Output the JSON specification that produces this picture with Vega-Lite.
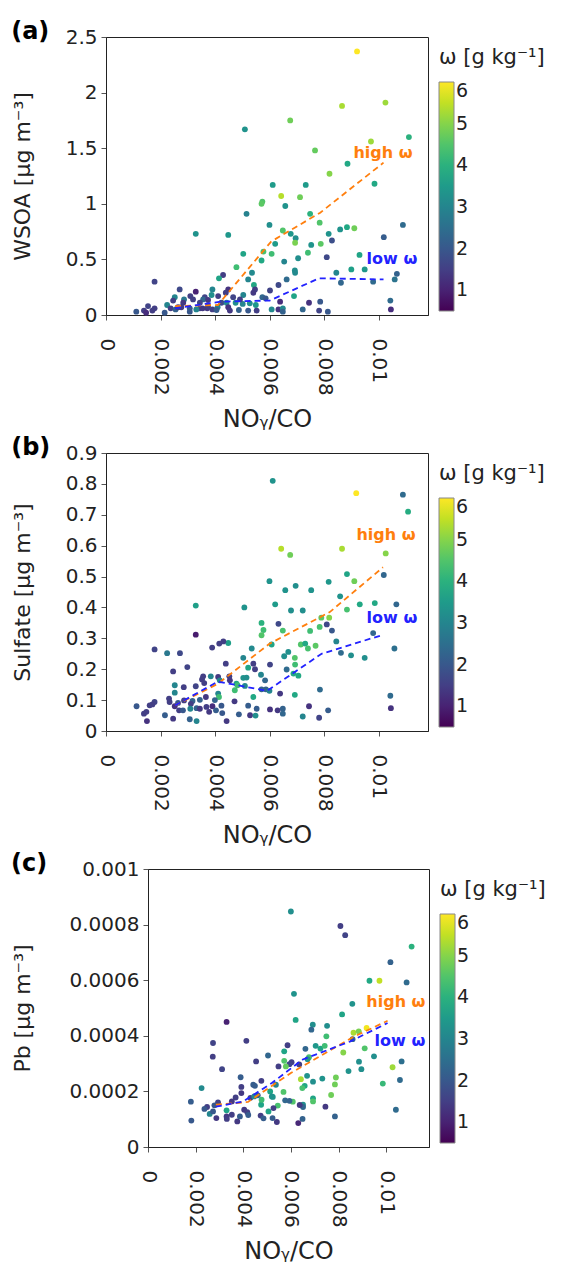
{
"$schema": "https://vega.github.io/schema/vega-lite/v6.json",
"padding": {"left": 3, "top": 19, "right": 2, "bottom": 2},
"background": "white",
"config": {
 "font": "DejaVu Sans",
 "view": {"stroke": "#222", "strokeWidth": 1},
 "axis": {"labelFont": "DejaVu Sans", "labelFontSize": 20, "labelColor": "#222", "titleFont": "DejaVu Sans", "titleFontWeight": "normal", "titleColor": "#222", "grid": false, "domainColor": "#222", "tickColor": "#555", "tickSize": 5, "labelFlush": false, "labelOverlap": false, "tickCount": 12},
 "axisX": {"labelAngle": 90, "labelPadding": 18, "titleFontSize": 24, "titlePadding": 12},
 "axisY": {"titleFontSize": 22, "labelPadding": 4},
 "legend": {"titleFont": "DejaVu Sans", "titleFontSize": 21, "titleFontWeight": "normal", "titleColor": "#222", "labelFont": "DejaVu Sans", "labelFontSize": 19, "labelColor": "#222", "gradientLength": 229, "gradientThickness": 15, "gradientStrokeColor": "#888", "gradientStrokeWidth": 1, "offset": 0, "padding": 10, "titlePadding": 14, "labelOffset": 6},
 "title": {"font": "DejaVu Sans", "fontSize": 24, "fontWeight": "bold", "anchor": "start", "frame": "bounds", "color": "#000", "offset": -17}
},
"datasets": {
 "sp": [{"k": 0}],
 "a": [
  {"x":0.00865,"y":1.88,"w":5.3},{"x":0.01024,"y":1.91,"w":5.2},{"x":0.00675,"y":1.75,"w":4.8},{"x":0.00509,"y":1.67,"w":3.3},{"x":0.0111,"y":1.6,"w":4.0},{"x":0.00971,"y":1.56,"w":5.2},{"x":0.00766,"y":1.48,"w":4.7},{"x":0.00885,"y":1.36,"w":3.8},{"x":0.00819,"y":1.27,"w":5.0},{"x":0.00611,"y":1.17,"w":3.5},
  {"x":0.00732,"y":1.17,"w":3.5},{"x":0.00984,"y":1.18,"w":3.8},{"x":0.00642,"y":1.07,"w":5.4},{"x":0.00711,"y":1.06,"w":4.8},{"x":0.00573,"y":1.02,"w":4.5},{"x":0.0057,"y":1.0,"w":4.6},{"x":0.00657,"y":0.98,"w":3.3},{"x":0.00515,"y":0.91,"w":2.9},{"x":0.00748,"y":0.91,"w":4.0},{"x":0.00599,"y":0.81,"w":3.2},
  {"x":0.00783,"y":0.83,"w":4.5},{"x":0.00648,"y":0.76,"w":4.5},{"x":0.00677,"y":0.73,"w":3.4},{"x":0.00858,"y":0.77,"w":3.3},{"x":0.00883,"y":0.79,"w":3.8},{"x":0.0091,"y":0.78,"w":4.8},{"x":0.01018,"y":0.7,"w":2.1},{"x":0.01088,"y":0.81,"w":2.4},{"x":0.00816,"y":0.73,"w":3.3},{"x":0.00828,"y":0.67,"w":1.8},
  {"x":0.00329,"y":0.73,"w":3.3},{"x":0.00448,"y":0.72,"w":3.4},{"x":0.00695,"y":0.69,"w":3.2},{"x":0.00693,"y":0.65,"w":4.9},{"x":0.0062,"y":0.64,"w":3.5},{"x":0.00752,"y":0.63,"w":3.3},{"x":0.00787,"y":0.64,"w":4.6},{"x":0.00577,"y":0.57,"w":4.4},{"x":0.00607,"y":0.55,"w":4.3},{"x":0.00503,"y":0.55,"w":3.7},
  {"x":0.0074,"y":0.56,"w":4.3},{"x":0.00929,"y":0.54,"w":3.7},{"x":0.00478,"y":0.43,"w":4.3},{"x":0.0057,"y":0.49,"w":3.8},{"x":0.00653,"y":0.48,"w":3.0},{"x":0.00704,"y":0.51,"w":3.2},{"x":0.00809,"y":0.52,"w":1.7},{"x":0.00535,"y":0.38,"w":3.1},{"x":0.00692,"y":0.4,"w":3.2},{"x":0.00693,"y":0.38,"w":3.1},
  {"x":0.00844,"y":0.38,"w":3.0},{"x":0.00899,"y":0.41,"w":3.6},{"x":0.00948,"y":0.41,"w":3.4},{"x":0.00429,"y":0.36,"w":1.5},{"x":0.00414,"y":0.33,"w":3.7},{"x":0.00521,"y":0.32,"w":3.0},{"x":0.00662,"y":0.32,"w":2.4},{"x":0.00861,"y":0.29,"w":2.3},{"x":0.00979,"y":0.3,"w":2.4},{"x":0.01066,"y":0.37,"w":2.2},
  {"x":0.01058,"y":0.32,"w":2.6},{"x":0.00178,"y":0.3,"w":1.6},{"x":0.00542,"y":0.27,"w":3.8},{"x":0.00632,"y":0.27,"w":1.7},{"x":0.00546,"y":0.23,"w":1.5},{"x":0.00601,"y":0.22,"w":1.6},{"x":0.0039,"y":0.23,"w":3.0},{"x":0.0027,"y":0.23,"w":1.7},{"x":0.00329,"y":0.21,"w":1.0},{"x":0.00448,"y":0.23,"w":1.3},
  {"x":0.00439,"y":0.2,"w":1.5},{"x":0.0054,"y":0.2,"w":1.4},{"x":0.00503,"y":0.18,"w":3.0},{"x":0.00689,"y":0.17,"w":3.7},{"x":0.00573,"y":0.16,"w":2.3},{"x":0.00585,"y":0.15,"w":2.0},{"x":0.00466,"y":0.16,"w":1.6},{"x":0.00362,"y":0.16,"w":1.6},{"x":0.00309,"y":0.17,"w":1.5},{"x":0.00411,"y":0.17,"w":1.5},
  {"x":0.00252,"y":0.16,"w":3.0},{"x":0.00356,"y":0.14,"w":2.3},{"x":0.00246,"y":0.13,"w":1.5},{"x":0.00286,"y":0.14,"w":2.7},{"x":0.00319,"y":0.14,"w":1.5},{"x":0.00224,"y":0.09,"w":3.0},{"x":0.00283,"y":0.11,"w":1.4},{"x":0.00276,"y":0.07,"w":1.4},{"x":0.00237,"y":0.06,"w":1.5},{"x":0.00307,"y":0.06,"w":2.0},
  {"x":0.00344,"y":0.06,"w":1.6},{"x":0.00371,"y":0.06,"w":1.4},{"x":0.0039,"y":0.05,"w":1.5},{"x":0.00409,"y":0.07,"w":2.9},{"x":0.00423,"y":0.11,"w":1.7},{"x":0.00442,"y":0.11,"w":3.1},{"x":0.00475,"y":0.11,"w":3.2},{"x":0.00501,"y":0.1,"w":3.0},{"x":0.00487,"y":0.045,"w":2.2},{"x":0.00527,"y":0.105,"w":3.2},
  {"x":0.00549,"y":0.09,"w":3.4},{"x":0.00552,"y":0.04,"w":1.5},{"x":0.00521,"y":0.04,"w":2.0},{"x":0.00607,"y":0.05,"w":3.1},{"x":0.00632,"y":0.05,"w":1.3},{"x":0.00648,"y":0.06,"w":3.1},{"x":0.00638,"y":0.12,"w":1.2},{"x":0.00648,"y":0.03,"w":2.2},{"x":0.00721,"y":0.05,"w":2.3},{"x":0.00744,"y":0.11,"w":1.3},
  {"x":0.00785,"y":0.12,"w":2.0},{"x":0.00781,"y":0.04,"w":1.6},{"x":0.00813,"y":0.03,"w":2.0},{"x":0.01042,"y":0.13,"w":2.4},{"x":0.01044,"y":0.05,"w":1.2},{"x":0.00111,"y":0.03,"w":2.0},{"x":0.00139,"y":0.04,"w":1.5},{"x":0.00147,"y":0.02,"w":1.2},{"x":0.00154,"y":0.08,"w":1.6},{"x":0.0017,"y":0.04,"w":1.5},
  {"x":0.00178,"y":0.06,"w":1.5},{"x":0.00215,"y":0.02,"w":2.0},{"x":0.00255,"y":0.05,"w":2.2},{"x":0.00264,"y":0.07,"w":1.5},{"x":0.00307,"y":0.03,"w":2.0},{"x":0.00331,"y":0.05,"w":3.0},{"x":0.00354,"y":0.06,"w":1.4},{"x":0.00374,"y":0.08,"w":1.5},{"x":0.00405,"y":0.045,"w":2.1},{"x":0.00448,"y":0.07,"w":1.3},
  {"x":0.00454,"y":0.04,"w":1.4},{"x":0.00344,"y":0.11,"w":1.6},{"x":0.00374,"y":0.135,"w":1.4},{"x":0.00387,"y":0.18,"w":3.2},{"x":0.00491,"y":0.14,"w":1.5},{"x":0.0092,"y":2.37,"w":6.0}
 ],
 "a_hi": [{"x":0.00253,"y":0.08},{"x":0.0041,"y":0.09},{"x":0.00605,"y":0.66},{"x":0.00785,"y":0.92},{"x":0.01017,"y":1.37}],
 "a_lo": [{"x":0.00253,"y":0.06},{"x":0.0042,"y":0.12},{"x":0.006,"y":0.13},{"x":0.0078,"y":0.33},{"x":0.01017,"y":0.32}],
 "a_hi_t": [{"x":0.01015,"y":1.46,"t":"high ω"}],
 "a_lo_t": [{"x":0.01048,"y":0.5,"t":"low ω"}],
 "b": [
  {"x":0.00611,"y":0.81,"w":3.3},{"x":0.00917,"y":0.77,"w":6.0},{"x":0.01088,"y":0.765,"w":2.4},{"x":0.01107,"y":0.71,"w":3.9},{"x":0.00642,"y":0.59,"w":5.4},{"x":0.00675,"y":0.57,"w":4.8},{"x":0.00865,"y":0.59,"w":5.3},{"x":0.01025,"y":0.575,"w":5.0},{"x":0.01018,"y":0.505,"w":2.3},{"x":0.00599,"y":0.485,"w":3.3},
  {"x":0.00816,"y":0.483,"w":3.4},{"x":0.00883,"y":0.508,"w":3.7},{"x":0.0091,"y":0.485,"w":4.8},{"x":0.00329,"y":0.406,"w":3.6},{"x":0.00507,"y":0.4,"w":3.3},{"x":0.00695,"y":0.47,"w":3.2},{"x":0.00657,"y":0.456,"w":3.3},{"x":0.00752,"y":0.456,"w":3.3},{"x":0.0062,"y":0.41,"w":3.5},{"x":0.00678,"y":0.39,"w":3.2},
  {"x":0.00721,"y":0.39,"w":3.2},{"x":0.00858,"y":0.436,"w":3.3},{"x":0.0093,"y":0.41,"w":3.8},{"x":0.00985,"y":0.414,"w":3.8},{"x":0.01064,"y":0.41,"w":2.3},{"x":0.00883,"y":0.393,"w":4.4},{"x":0.0057,"y":0.35,"w":4.0},{"x":0.00577,"y":0.327,"w":4.3},{"x":0.0057,"y":0.31,"w":4.5},{"x":0.00632,"y":0.347,"w":1.7},
  {"x":0.00648,"y":0.325,"w":4.4},{"x":0.00748,"y":0.324,"w":4.3},{"x":0.00789,"y":0.367,"w":4.6},{"x":0.00818,"y":0.367,"w":5.0},{"x":0.00783,"y":0.337,"w":4.4},{"x":0.00809,"y":0.345,"w":1.7},{"x":0.00828,"y":0.325,"w":2.0},{"x":0.00607,"y":0.28,"w":3.7},{"x":0.00714,"y":0.28,"w":4.5},{"x":0.0073,"y":0.283,"w":3.8},
  {"x":0.0074,"y":0.267,"w":4.4},{"x":0.00768,"y":0.276,"w":4.6},{"x":0.00844,"y":0.29,"w":3.0},{"x":0.00979,"y":0.317,"w":2.3},{"x":0.01057,"y":0.267,"w":2.5},{"x":0.00861,"y":0.253,"w":2.4},{"x":0.00898,"y":0.245,"w":3.2},{"x":0.00948,"y":0.237,"w":3.2},{"x":0.00668,"y":0.256,"w":3.2},{"x":0.00653,"y":0.242,"w":3.2},
  {"x":0.00692,"y":0.237,"w":4.5},{"x":0.00534,"y":0.267,"w":3.1},{"x":0.00503,"y":0.237,"w":3.0},{"x":0.00448,"y":0.285,"w":3.6},{"x":0.00415,"y":0.283,"w":1.5},{"x":0.0043,"y":0.29,"w":1.5},{"x":0.00389,"y":0.27,"w":1.5},{"x":0.00329,"y":0.312,"w":0.9},{"x":0.00178,"y":0.264,"w":1.6},{"x":0.00224,"y":0.252,"w":2.7},
  {"x":0.00271,"y":0.252,"w":1.7},{"x":0.00246,"y":0.193,"w":1.5},{"x":0.00298,"y":0.207,"w":1.6},{"x":0.00439,"y":0.218,"w":1.5},{"x":0.0054,"y":0.218,"w":1.5},{"x":0.00601,"y":0.215,"w":1.6},{"x":0.00521,"y":0.205,"w":3.7},{"x":0.00662,"y":0.199,"w":2.4},{"x":0.00693,"y":0.215,"w":4.3},{"x":0.00687,"y":0.186,"w":3.8},
  {"x":0.00705,"y":0.179,"w":3.8},{"x":0.00568,"y":0.182,"w":3.0},{"x":0.00583,"y":0.164,"w":2.3},{"x":0.00546,"y":0.2,"w":1.5},{"x":0.00503,"y":0.172,"w":3.3},{"x":0.00515,"y":0.173,"w":3.2},{"x":0.00452,"y":0.177,"w":1.5},{"x":0.00454,"y":0.164,"w":1.4},{"x":0.00411,"y":0.175,"w":1.4},{"x":0.00417,"y":0.164,"w":3.0},
  {"x":0.00384,"y":0.177,"w":3.0},{"x":0.00356,"y":0.177,"w":1.5},{"x":0.00352,"y":0.167,"w":1.5},{"x":0.0036,"y":0.155,"w":1.5},{"x":0.00329,"y":0.145,"w":1.6},{"x":0.00285,"y":0.142,"w":1.5},{"x":0.00252,"y":0.148,"w":3.0},{"x":0.00252,"y":0.124,"w":3.0},{"x":0.00478,"y":0.153,"w":3.7},{"x":0.00482,"y":0.148,"w":4.3},
  {"x":0.00472,"y":0.132,"w":4.3},{"x":0.00509,"y":0.146,"w":3.1},{"x":0.0057,"y":0.135,"w":2.2},{"x":0.00586,"y":0.135,"w":2.2},{"x":0.00599,"y":0.13,"w":3.0},{"x":0.00638,"y":0.121,"w":1.4},{"x":0.00692,"y":0.117,"w":3.8},{"x":0.00784,"y":0.134,"w":2.4},{"x":0.0054,"y":0.11,"w":3.8},{"x":0.00411,"y":0.121,"w":3.0},
  {"x":0.00414,"y":0.11,"w":4.3},{"x":0.00399,"y":0.1,"w":2.2},{"x":0.00366,"y":0.11,"w":1.4},{"x":0.00317,"y":0.097,"w":2.2},{"x":0.00311,"y":0.088,"w":1.5},{"x":0.00344,"y":0.101,"w":2.2},{"x":0.00231,"y":0.105,"w":1.5},{"x":0.00233,"y":0.094,"w":1.5},{"x":0.00264,"y":0.091,"w":2.0},{"x":0.00286,"y":0.099,"w":1.5},
  {"x":0.00252,"y":0.08,"w":1.3},{"x":0.00268,"y":0.067,"w":1.5},{"x":0.00282,"y":0.067,"w":2.0},{"x":0.00309,"y":0.072,"w":3.0},{"x":0.00332,"y":0.074,"w":2.2},{"x":0.00344,"y":0.072,"w":1.4},{"x":0.00368,"y":0.078,"w":1.5},{"x":0.00378,"y":0.062,"w":1.4},{"x":0.0039,"y":0.08,"w":1.2},{"x":0.00403,"y":0.067,"w":2.1},
  {"x":0.00423,"y":0.082,"w":2.0},{"x":0.00426,"y":0.058,"w":2.0},{"x":0.00442,"y":0.032,"w":1.4},{"x":0.00471,"y":0.096,"w":1.4},{"x":0.00487,"y":0.054,"w":2.1},{"x":0.00521,"y":0.082,"w":2.1},{"x":0.00528,"y":0.051,"w":1.4},{"x":0.00548,"y":0.05,"w":3.2},{"x":0.00552,"y":0.072,"w":2.1},{"x":0.00601,"y":0.07,"w":1.3},
  {"x":0.00629,"y":0.067,"w":1.4},{"x":0.00648,"y":0.072,"w":2.2},{"x":0.00648,"y":0.056,"w":2.3},{"x":0.00721,"y":0.047,"w":3.0},{"x":0.00744,"y":0.08,"w":1.3},{"x":0.00781,"y":0.043,"w":1.6},{"x":0.00814,"y":0.067,"w":2.1},{"x":0.01042,"y":0.114,"w":2.4},{"x":0.01044,"y":0.074,"w":1.3},{"x":0.00112,"y":0.08,"w":2.0},
  {"x":0.00139,"y":0.056,"w":1.5},{"x":0.0015,"y":0.032,"w":1.3},{"x":0.00148,"y":0.062,"w":1.5},{"x":0.0016,"y":0.083,"w":1.5},{"x":0.00178,"y":0.094,"w":1.6},{"x":0.0017,"y":0.086,"w":1.5},{"x":0.00216,"y":0.051,"w":2.1},{"x":0.00246,"y":0.04,"w":1.4},{"x":0.00307,"y":0.038,"w":2.2},{"x":0.00332,"y":0.032,"w":3.0}
 ],
 "b_hi": [{"x":0.00253,"y":0.083},{"x":0.0041,"y":0.153},{"x":0.006,"y":0.283},{"x":0.0082,"y":0.385},{"x":0.01015,"y":0.53}],
 "b_lo": [{"x":0.00253,"y":0.083},{"x":0.0041,"y":0.16},{"x":0.0059,"y":0.13},{"x":0.0079,"y":0.25},{"x":0.0101,"y":0.31}],
 "b_hi_t": [{"x":0.01026,"y":0.633,"t":"high ω"}],
 "b_lo_t": [{"x":0.01048,"y":0.367,"t":"low ω"}],
 "c": [
  {"x":0.006,"y":0.000847,"w":3.2},{"x":0.00808,"y":0.000795,"w":1.5},{"x":0.00828,"y":0.000762,"w":1.6},{"x":0.01107,"y":0.000721,"w":4.0},{"x":0.01018,"y":0.000665,"w":2.2},{"x":0.0093,"y":0.000598,"w":3.8},{"x":0.00972,"y":0.000598,"w":5.5},{"x":0.01086,"y":0.000592,"w":2.4},{"x":0.00613,"y":0.000551,"w":3.3},{"x":0.0062,"y":0.000457,"w":3.7},
  {"x":0.00858,"y":0.000515,"w":3.3},{"x":0.00815,"y":0.000477,"w":3.7},{"x":0.00918,"y":0.000428,"w":5.9},{"x":0.00863,"y":0.000411,"w":5.3},{"x":0.00885,"y":0.000416,"w":4.9},{"x":0.00859,"y":0.000388,"w":2.3},{"x":0.0091,"y":0.000355,"w":4.5},{"x":0.00949,"y":0.000326,"w":3.2},{"x":0.01065,"y":0.000308,"w":2.5},{"x":0.01027,"y":0.000287,"w":5.2},
  {"x":0.01058,"y":0.000241,"w":2.4},{"x":0.00986,"y":0.000228,"w":4.2},{"x":0.01041,"y":0.000134,"w":2.4},{"x":0.00842,"y":0.000273,"w":3.3},{"x":0.0082,"y":0.00034,"w":5.0},{"x":0.00886,"y":0.000307,"w":3.2},{"x":0.00896,"y":0.00028,"w":3.2},{"x":0.00789,"y":0.00025,"w":4.8},{"x":0.00785,"y":0.000225,"w":4.8},{"x":0.00769,"y":0.000187,"w":4.8},
  {"x":0.00785,"y":0.00011,"w":2.2},{"x":0.00745,"y":0.000145,"w":1.4},{"x":0.00692,"y":0.00044,"w":3.2},{"x":0.00686,"y":0.000422,"w":2.3},{"x":0.00752,"y":0.000436,"w":3.2},{"x":0.00749,"y":0.000398,"w":4.3},{"x":0.00704,"y":0.000364,"w":3.4},{"x":0.00724,"y":0.000354,"w":3.7},{"x":0.00742,"y":0.000364,"w":4.3},{"x":0.00661,"y":0.000353,"w":2.3},
  {"x":0.00676,"y":0.000323,"w":4.4},{"x":0.0067,"y":0.000316,"w":3.3},{"x":0.00732,"y":0.000246,"w":3.3},{"x":0.00668,"y":0.000256,"w":3.3},{"x":0.00693,"y":0.000235,"w":3.2},{"x":0.00642,"y":0.000244,"w":5.3},{"x":0.00658,"y":0.00022,"w":3.8},{"x":0.00648,"y":0.000212,"w":4.4},{"x":0.00693,"y":0.000175,"w":3.7},{"x":0.00693,"y":0.000164,"w":4.5},
  {"x":0.00651,"y":0.000152,"w":3.2},{"x":0.00651,"y":0.000144,"w":2.3},{"x":0.00637,"y":0.000151,"w":1.4},{"x":0.00649,"y":0.000101,"w":2.2},{"x":0.00631,"y":0.000086,"w":1.1},{"x":0.00608,"y":0.000163,"w":4.5},{"x":0.00586,"y":0.000366,"w":1.5},{"x":0.00603,"y":0.000305,"w":1.5},{"x":0.00594,"y":0.000298,"w":1.6},{"x":0.00635,"y":0.000297,"w":1.5},
  {"x":0.00572,"y":0.000344,"w":3.7},{"x":0.00572,"y":0.00031,"w":4.5},{"x":0.00579,"y":0.00029,"w":4.7},{"x":0.00548,"y":0.00029,"w":1.5},{"x":0.00504,"y":0.000329,"w":2.3},{"x":0.00454,"y":0.000308,"w":1.5},{"x":0.00413,"y":0.000382,"w":1.5},{"x":0.0033,"y":0.00045,"w":1.0},{"x":0.00273,"y":0.000374,"w":1.6},{"x":0.00272,"y":0.000325,"w":1.5},
  {"x":0.00311,"y":0.00028,"w":1.6},{"x":0.00225,"y":0.000212,"w":3.1},{"x":0.0018,"y":0.000163,"w":2.1},{"x":0.00182,"y":0.000095,"w":2.0},{"x":0.00389,"y":0.000251,"w":2.1},{"x":0.00392,"y":0.000216,"w":1.5},{"x":0.00392,"y":0.000194,"w":1.4},{"x":0.00442,"y":0.000224,"w":2.1},{"x":0.00449,"y":0.00022,"w":2.1},{"x":0.00476,"y":0.000238,"w":1.5},
  {"x":0.0043,"y":0.000177,"w":1.5},{"x":0.00461,"y":0.000186,"w":2.1},{"x":0.00446,"y":0.000182,"w":3.1},{"x":0.00368,"y":0.000178,"w":1.5},{"x":0.00352,"y":0.000164,"w":1.4},{"x":0.0033,"y":0.000132,"w":3.7},{"x":0.00294,"y":0.00016,"w":1.6},{"x":0.00279,"y":0.00015,"w":2.0},{"x":0.00248,"y":0.000144,"w":1.5},{"x":0.00237,"y":0.000137,"w":2.0},
  {"x":0.00259,"y":0.000119,"w":3.0},{"x":0.00273,"y":0.000128,"w":2.0},{"x":0.00287,"y":0.000104,"w":1.4},{"x":0.0033,"y":0.00011,"w":1.4},{"x":0.00331,"y":0.000101,"w":1.5},{"x":0.00352,"y":0.000116,"w":1.5},{"x":0.00375,"y":0.000092,"w":1.4},{"x":0.00386,"y":0.00011,"w":2.1},{"x":0.00404,"y":0.000134,"w":1.4},{"x":0.00417,"y":0.000125,"w":1.5},
  {"x":0.00421,"y":0.000115,"w":2.1},{"x":0.00473,"y":0.000113,"w":1.5},{"x":0.00485,"y":0.000103,"w":2.1},{"x":0.00475,"y":0.000152,"w":3.7},{"x":0.00477,"y":0.00017,"w":4.3},{"x":0.00506,"y":0.000128,"w":3.7},{"x":0.00513,"y":0.0002,"w":3.7},{"x":0.0052,"y":0.000182,"w":3.2},{"x":0.00524,"y":0.00018,"w":3.3},{"x":0.00523,"y":0.000104,"w":2.1},
  {"x":0.00541,"y":0.00009,"w":1.4},{"x":0.00537,"y":0.000224,"w":3.0},{"x":0.00545,"y":0.000149,"w":4.4},{"x":0.00527,"y":0.00014,"w":1.5},{"x":0.00569,"y":0.000198,"w":4.5},{"x":0.00576,"y":0.000168,"w":2.3},{"x":0.00594,"y":0.000166,"w":2.2}
 ],
 "c_hi": [{"x":0.00285,"y":0.000152},{"x":0.0042,"y":0.000162},{"x":0.006,"y":0.000266},{"x":0.0086,"y":0.000395},{"x":0.01006,"y":0.000454}],
 "c_lo": [{"x":0.00285,"y":0.000145},{"x":0.004,"y":0.000164},{"x":0.0052,"y":0.00023},{"x":0.0065,"y":0.000315},{"x":0.0085,"y":0.00038},{"x":0.01006,"y":0.000446}],
 "c_hi_t": [{"x":0.01041,"y":0.000523,"t":"high ω"}],
 "c_lo_t": [{"x":0.01058,"y":0.00038,"t":"low ω"}]
},
"spacing": 3,
"resolve": {"scale": {"color": "independent"}},
"vconcat": [
 {"spacing": 0, "hconcat": [
 {"width": 1, "height": 1, "view": {"stroke": null}, "data": {"name": "sp"}, "mark": {"type": "point", "opacity": 0}, "encoding": {}},
 {
  "title": {"text": "(a)"},
  "width": 322, "height": 278,
  "layer": [
   {"data": {"name": "a"}, "mark": {"type": "circle", "size": 34, "opacity": 1},
    "encoding": {
     "x": {"field": "x", "type": "quantitative", "scale": {"domain": [0, 0.0118], "nice": false}, "axis": {"values": [0, 0.002, 0.004, 0.006, 0.008, 0.01], "tickCount": 12, "format": "~g", "title": "NOᵧ/CO", "labelOverlap": false}},
     "y": {"field": "y", "type": "quantitative", "scale": {"domain": [0, 2.5], "nice": false}, "axis": {"values": [0, 0.5, 1, 1.5, 2, 2.5], "tickCount": 12, "format": "~g", "title": "WSOA [μg m⁻³]", "titlePadding": 31, "labelOverlap": false}},
     "color": {"field": "w", "type": "quantitative", "scale": {"scheme": "viridis", "domain": [0.5, 6], "nice": false}, "legend": {"title": "ω [g kg⁻¹]", "values": [1, 2, 3, 4, 5, 6]}}
    }},
   {"data": {"name": "a_hi"}, "mark": {"type": "line", "color": "#ff7f0e", "strokeDash": [6, 4], "strokeWidth": 1.8}, "encoding": {"x": {"field": "x", "type": "quantitative"}, "y": {"field": "y", "type": "quantitative"}}},
   {"data": {"name": "a_lo"}, "mark": {"type": "line", "color": "#2222ff", "strokeDash": [6, 4], "strokeWidth": 1.8}, "encoding": {"x": {"field": "x", "type": "quantitative"}, "y": {"field": "y", "type": "quantitative"}}},
   {"data": {"name": "a_hi_t"}, "mark": {"type": "text", "color": "#ff7f0e", "fontWeight": "bold", "fontSize": 16, "font": "DejaVu Sans"}, "encoding": {"x": {"field": "x", "type": "quantitative"}, "y": {"field": "y", "type": "quantitative"}, "text": {"field": "t"}}},
   {"data": {"name": "a_lo_t"}, "mark": {"type": "text", "color": "#2222ff", "fontWeight": "bold", "fontSize": 16, "font": "DejaVu Sans"}, "encoding": {"x": {"field": "x", "type": "quantitative"}, "y": {"field": "y", "type": "quantitative"}, "text": {"field": "t"}}}
  ]
 }]},
 {"spacing": 0, "hconcat": [
 {"width": 1, "height": 1, "view": {"stroke": null}, "data": {"name": "sp"}, "mark": {"type": "point", "opacity": 0}, "encoding": {}},
 {
  "title": {"text": "(b)"},
  "width": 322, "height": 278,
  "layer": [
   {"data": {"name": "b"}, "mark": {"type": "circle", "size": 34, "opacity": 1},
    "encoding": {
     "x": {"field": "x", "type": "quantitative", "scale": {"domain": [0, 0.0118], "nice": false}, "axis": {"values": [0, 0.002, 0.004, 0.006, 0.008, 0.01], "tickCount": 12, "format": "~g", "title": "NOᵧ/CO", "labelOverlap": false}},
     "y": {"field": "y", "type": "quantitative", "scale": {"domain": [0, 0.9], "nice": false}, "axis": {"values": [0, 0.1, 0.2, 0.3, 0.4, 0.5, 0.6, 0.7, 0.8, 0.9], "tickCount": 12, "format": "~g", "title": "Sulfate [μg m⁻³]", "titlePadding": 31, "labelOverlap": false}},
     "color": {"field": "w", "type": "quantitative", "scale": {"scheme": "viridis", "domain": [0.5, 6], "nice": false}, "legend": {"title": "ω [g kg⁻¹]", "values": [1, 2, 3, 4, 5, 6]}}
    }},
   {"data": {"name": "b_hi"}, "mark": {"type": "line", "color": "#ff7f0e", "strokeDash": [6, 4], "strokeWidth": 1.8}, "encoding": {"x": {"field": "x", "type": "quantitative"}, "y": {"field": "y", "type": "quantitative"}}},
   {"data": {"name": "b_lo"}, "mark": {"type": "line", "color": "#2222ff", "strokeDash": [6, 4], "strokeWidth": 1.8}, "encoding": {"x": {"field": "x", "type": "quantitative"}, "y": {"field": "y", "type": "quantitative"}}},
   {"data": {"name": "b_hi_t"}, "mark": {"type": "text", "color": "#ff7f0e", "fontWeight": "bold", "fontSize": 16, "font": "DejaVu Sans"}, "encoding": {"x": {"field": "x", "type": "quantitative"}, "y": {"field": "y", "type": "quantitative"}, "text": {"field": "t"}}},
   {"data": {"name": "b_lo_t"}, "mark": {"type": "text", "color": "#2222ff", "fontWeight": "bold", "fontSize": 16, "font": "DejaVu Sans"}, "encoding": {"x": {"field": "x", "type": "quantitative"}, "y": {"field": "y", "type": "quantitative"}, "text": {"field": "t"}}}
  ]
 }]},
 {"spacing": 0, "hconcat": [
 {"width": 1, "height": 1, "view": {"stroke": null}, "data": {"name": "sp"}, "mark": {"type": "point", "opacity": 0}, "encoding": {}},
 {
  "title": {"text": "(c)"},
  "width": 281, "height": 278,
  "layer": [
   {"data": {"name": "c"}, "mark": {"type": "circle", "size": 34, "opacity": 1},
    "encoding": {
     "x": {"field": "x", "type": "quantitative", "scale": {"domain": [0, 0.0118], "nice": false}, "axis": {"values": [0, 0.002, 0.004, 0.006, 0.008, 0.01], "tickCount": 12, "format": "~g", "title": "NOᵧ/CO", "labelOverlap": false}},
     "y": {"field": "y", "type": "quantitative", "scale": {"domain": [0, 0.001], "nice": false}, "axis": {"values": [0, 0.0002, 0.0004, 0.0006, 0.0008, 0.001], "tickCount": 12, "format": "~g", "title": "Pb [μg m⁻³]", "titlePadding": 35, "labelOverlap": false}},
     "color": {"field": "w", "type": "quantitative", "scale": {"scheme": "viridis", "domain": [0.5, 6], "nice": false}, "legend": {"title": "ω [g kg⁻¹]", "values": [1, 2, 3, 4, 5, 6]}}
    }},
   {"data": {"name": "c_hi"}, "mark": {"type": "line", "color": "#ff7f0e", "strokeDash": [6, 4], "strokeWidth": 1.8}, "encoding": {"x": {"field": "x", "type": "quantitative"}, "y": {"field": "y", "type": "quantitative"}}},
   {"data": {"name": "c_lo"}, "mark": {"type": "line", "color": "#2222ff", "strokeDash": [6, 4], "strokeWidth": 1.8}, "encoding": {"x": {"field": "x", "type": "quantitative"}, "y": {"field": "y", "type": "quantitative"}}},
   {"data": {"name": "c_hi_t"}, "mark": {"type": "text", "color": "#ff7f0e", "fontWeight": "bold", "fontSize": 16, "font": "DejaVu Sans"}, "encoding": {"x": {"field": "x", "type": "quantitative"}, "y": {"field": "y", "type": "quantitative"}, "text": {"field": "t"}}},
   {"data": {"name": "c_lo_t"}, "mark": {"type": "text", "color": "#2222ff", "fontWeight": "bold", "fontSize": 16, "font": "DejaVu Sans"}, "encoding": {"x": {"field": "x", "type": "quantitative"}, "y": {"field": "y", "type": "quantitative"}, "text": {"field": "t"}}}
  ]
 }]}
]
}
